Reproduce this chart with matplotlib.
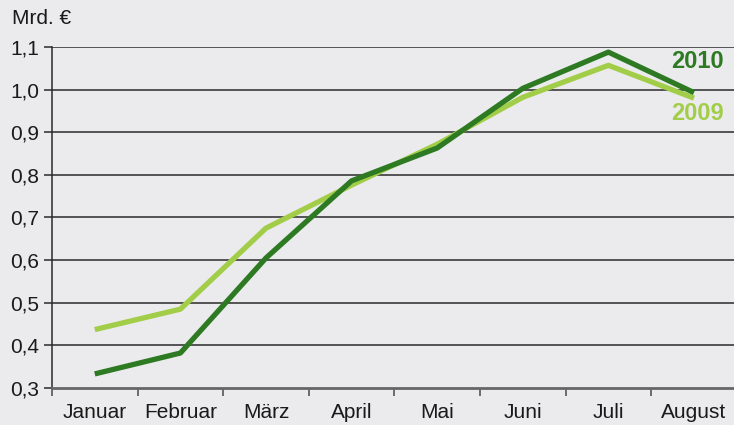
import matplotlib.pyplot as plt
import numpy as np

months = ["Januar", "Februar", "März", "April", "Mai", "Juni", "Juli", "August"]
y2010 = [0.333, 0.382, 0.605, 0.786, 0.863, 1.003, 1.088, 0.993]
y2009 = [0.437, 0.485, 0.675, 0.776, 0.872, 0.982, 1.057, 0.980]
yticks = [0.3, 0.4, 0.5, 0.6, 0.7, 0.8, 0.9, 1.0, 1.1]

dark = "#2d7a23"
light = "#a2cd48"
bg = "#ebebed"

plt.rcParams['font.family'] = ['Liberation Sans', 'DejaVu Sans']

fig = plt.figure(figsize=(7.34, 4.25), dpi=100, facecolor=bg)
ax = fig.add_axes([0.0708, 0.0871, 0.933, 0.8023], facecolor=bg)

x = np.arange(len(months))
ax.plot(x, y2009, color=light, lw=3.8, solid_capstyle='butt', zorder=3)
ax.plot(x, y2010, color=dark, lw=3.8, solid_capstyle='butt', zorder=4)

ax.set_xlim(-0.5, len(months) - 0.5)
ax.set_ylim(0.3, 1.1)
ax.set_yticks(yticks)
ax.set_yticklabels([("%.1f" % v).replace(".", ",") for v in yticks], fontsize=15)
for v in yticks[1:]:
    ax.axhline(v, color="#2a2a2a", lw=1.1, zorder=1)

ax.set_xticks(x)
ax.set_xticklabels(months, fontsize=15)
ax.tick_params(axis='x', length=0, pad=11)
ax.set_xticks(np.arange(-0.5, len(months) - 0.5), minor=True)
ax.tick_params(axis='x', which='minor', length=6, width=1.2, color="#555555", direction='out')
ax.tick_params(axis='y', length=6, width=1.1, color="#2a2a2a", pad=3, labelcolor="#1a1a1a")
ax.tick_params(axis='x', labelcolor="#1a1a1a")

for s in ["top", "right"]:
    ax.spines[s].set_visible(False)
ax.spines["left"].set_color("#2a2a2a")
ax.spines["left"].set_linewidth(1.1)
ax.spines["bottom"].set_color("#666666")
ax.spines["bottom"].set_linewidth(2)

fig.text(724 / 734, 1 - 62 / 425, "2010", color=dark, fontsize=17, fontweight='bold', ha='right', va='center')
fig.text(724 / 734, 1 - 113 / 425, "2009", color=light, fontsize=17, fontweight='bold', ha='right', va='center')

fig.text(12 / 734, 1 - 18 / 425, "Mrd. €", fontsize=15, color="#1a1a1a", va='center', ha='left')

fig.savefig("out.png", dpi=100, facecolor=bg)
